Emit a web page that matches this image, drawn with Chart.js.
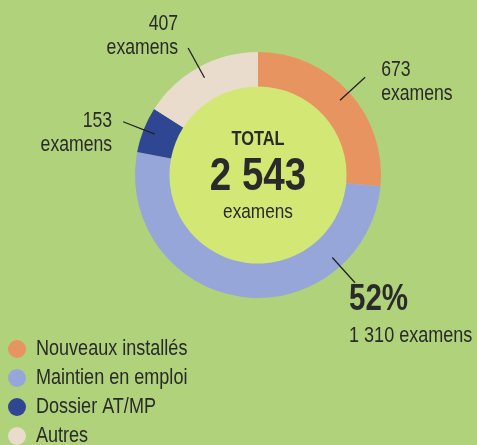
<!DOCTYPE html>
<html>
<head>
<meta charset="utf-8">
<script src="https://cdn.jsdelivr.net/npm/chart.js@4.4.0/dist/chart.umd.min.js"></script>
<style>
  html, body { margin: 0; padding: 0; background: #afd27b; overflow: hidden; }
  #wrap { width: 477px; height: 445px; position: relative; }
</style>
</head>
<body>
<div id="wrap"><canvas id="donut" width="477" height="445"></canvas></div>
<script>
// data
var categories = ['Nouveaux installés', 'Maintien en emploi', 'Dossier AT/MP', 'Autres'];
var exams = [673, 1310, 153, 407];
var sliceColors = ['#e79461', '#97a6d8', '#2f4693', '#e9dccd'];
var unitLabel = 'examens';
var totalLabel = 'TOTAL';

// no narrow font installed, so squeeze Liberation Sans horizontally
var FONT = '"Liberation Sans", Arial, sans-serif';
var SQUEEZE = 0.82;
var INK = '#2a2a2a';

function fmt(n) {
  return String(n).replace(/\B(?=(\d{3})+(?!\d))/g, ' ');
}

function txt(ctx, s, x, y, font, align) {
  ctx.save();
  ctx.font = font;
  ctx.textAlign = align;
  ctx.textBaseline = 'middle';
  ctx.fillStyle = INK;
  ctx.translate(x, y);
  ctx.scale(SQUEEZE, 1);
  ctx.fillText(s, 0, 0);
  ctx.restore();
}

var total = exams.reduce(function (a, b) { return a + b; }, 0);

var donutExtras = {
  id: 'donutExtras',
  beforeDatasetsDraw: function (chart) {
    var arc = chart.getDatasetMeta(0).data[0];
    var ctx = chart.ctx;
    ctx.save();
    ctx.fillStyle = '#d3e774';
    ctx.beginPath();
    ctx.arc(arc.x, arc.y, arc.innerRadius + 1, 0, Math.PI * 2);
    ctx.fill();
    ctx.restore();
  },
  afterDatasetsDraw: function (chart, args, opts) {
    var ctx = chart.ctx;
    var arcs = chart.getDatasetMeta(0).data;
    var cx = arcs[0].x, cy = arcs[0].y;

    // centre text
    txt(ctx, totalLabel, cx, cy - 36, 'bold 20px ' + FONT, 'center');
    txt(ctx, fmt(total), cx, cy + 2, 'bold 47px ' + FONT, 'center');
    txt(ctx, unitLabel, cx, cy + 37, '21px ' + FONT, 'center');

    // slice labels with leader lines
    arcs.forEach(function (a, i) {
      var lab = opts.labels[i];
      var ang = lab.angle != null ? (lab.angle - 90) * Math.PI / 180 : (a.startAngle + a.endAngle) / 2;
      var r1 = a.outerRadius - 12, r2 = a.outerRadius + 22;
      var x1 = cx + Math.cos(ang) * r1, y1 = cy + Math.sin(ang) * r1;
      var x2 = cx + Math.cos(ang) * r2, y2 = cy + Math.sin(ang) * r2;
      ctx.save();
      ctx.strokeStyle = '#222';
      ctx.lineWidth = 1.3;
      ctx.beginPath();
      ctx.moveTo(x1, y1);
      ctx.lineTo(x2, y2);
      ctx.stroke();
      ctx.restore();

      var align = lab.side === 'left' ? 'right' : 'left';
      var tx = x2 + lab.dx;
      if (lab.percent) {
        txt(ctx, Math.round(exams[i] / total * 100) + '%', tx, y2 + lab.dy, 'bold 36px ' + FONT, align);
        txt(ctx, fmt(exams[i]) + ' ' + unitLabel, tx, y2 + lab.dy + 36, '22px ' + FONT, align);
      } else {
        txt(ctx, fmt(exams[i]), tx, y2 + lab.dy, '21.5px ' + FONT, align);
        txt(ctx, unitLabel, tx, y2 + lab.dy + 24, '21.5px ' + FONT, align);
      }
    });

    // legend
    categories.forEach(function (c, i) {
      var y = 349 + i * 29;
      ctx.save();
      ctx.fillStyle = sliceColors[i];
      ctx.beginPath();
      ctx.arc(17, y, 9, 0, Math.PI * 2);
      ctx.fill();
      ctx.restore();
      txt(ctx, c, 36, y, '22px ' + FONT, 'left');
    });
  }
};

var ctx = document.getElementById('donut').getContext('2d');
var chart = new Chart(ctx, {
  type: 'doughnut',
  data: {
    labels: categories,
    datasets: [{
      data: exams,
      backgroundColor: sliceColors,
      borderWidth: 0
    }]
  },
  options: {
    responsive: false,
    animation: false,
    cutout: '72%',
    layout: { padding: { left: 135, top: 52, right: 96, bottom: 147 } },
    plugins: {
      legend: { display: false },
      tooltip: { enabled: false },
      donutExtras: {
        labels: [
          { side: 'right', dx: 16, dy: -7 },
          { side: 'right', dx: -6, dy: 17, angle: 138, percent: true },
          { side: 'left', dx: -11, dy: -1 },
          { side: 'left', dx: -10, dy: -24 }
        ]
      }
    }
  },
  plugins: [donutExtras]
});
</script>
</body>
</html>
